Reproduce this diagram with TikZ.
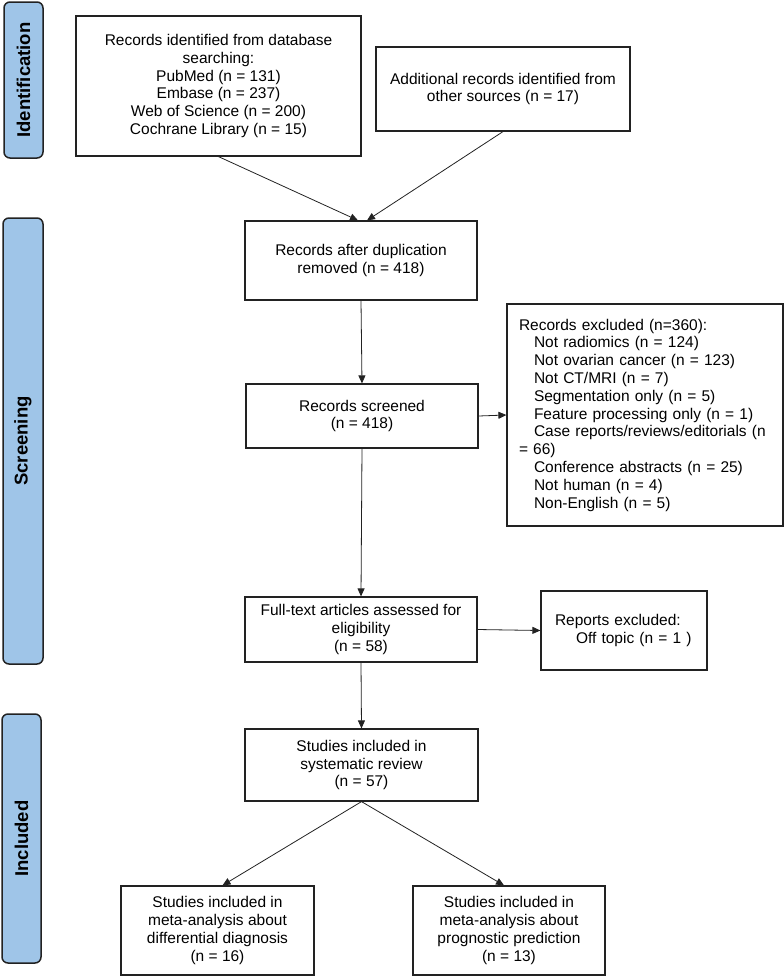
\documentclass[tikz,border=0pt]{standalone}
\usepackage{fontspec}
\setmainfont{Liberation Sans}
\usetikzlibrary{arrows.meta,calc}
\definecolor{phasefill}{HTML}{9FC5E8}
\definecolor{edge}{HTML}{222222}
\begin{document}
\begin{tikzpicture}[x=1pt,y=-1pt,
  box/.style={draw=edge, line width=1.2pt, align=center, inner sep=0pt,
    font=\fontsize{15.5}{17.8}\selectfont},
  phase/.style={draw=edge, line width=1.5pt, fill=phasefill, rounded corners=6pt, inner sep=0pt},
  plabel/.style={rotate=90, inner sep=0pt, font=\fontsize{18.5}{20}\selectfont\bfseries},
  arr/.style={-{Triangle[length=8pt,width=7pt]}, line width=0.8pt, draw=edge}]
\useasboundingbox (0,0) rectangle (784,978);
% phase bars
\node[phase, minimum width=39pt, minimum height=156pt] (p1) at (23.5,80) {};
\node[plabel] (p1t) at (p1.center) {Identification};
\node[phase, minimum width=40pt, minimum height=446pt] (p2) at (23,441) {};
\node[plabel] (p2t) at (p2.center) {Screening};
\node[phase, minimum width=39pt, minimum height=249pt] (p3) at (21.5,838.5) {};
\node[plabel] (p3t) at (p3.center) {Included};
% boxes
\node[box, minimum width=285pt, minimum height=140pt] (b1) at (218.5,86)
  {Records identified from database\\searching:\\PubMed (n = 131)\\Embase (n = 237)\\Web of Science (n = 200)\\Cochrane Library (n = 15)};
\node[box, minimum width=254pt, minimum height=84pt] (b2) at (503,89)
  {Additional records identified from\\other sources (n = 17)};
\node[box, minimum width=232pt, minimum height=79pt] (b3) at (361,260.5)
  {Records after duplication\\removed (n = 418)};
\node[box, minimum width=232pt, minimum height=64pt] (b4) at (362,416)
  {Records screened\\(n = 418)};
\node[box, minimum width=276pt, minimum height=222pt, text width=252pt, align=left] (ex) at (645,415)
  {Records excluded (n=360):\\
   \hspace*{15pt}Not radiomics (n = 124)\\
   \hspace*{15pt}Not ovarian cancer (n = 123)\\
   \hspace*{15pt}Not CT/MRI (n = 7)\\
   \hspace*{15pt}Segmentation only (n = 5)\\
   \hspace*{15pt}Feature processing only (n = 1)\\
   \hspace*{15pt}Case reports/reviews/editorials (n\\
   = 66)\\
   \hspace*{15pt}Conference abstracts (n = 25)\\
   \hspace*{15pt}Not human (n = 4)\\
   \hspace*{15pt}Non-English (n = 5)};
\node[box, minimum width=232pt, minimum height=65pt] (b5) at (361,629.5)
  {Full-text articles assessed for\\eligibility\\(n = 58)};
\node[box, minimum width=166pt, minimum height=79pt, text width=138pt, align=left] (rep) at (624,630.5)
  {Reports excluded:\\\hspace*{21pt}Off topic (n = 1 )};
\node[box, minimum width=233pt, minimum height=72pt] (b6) at (361.5,765)
  {Studies included in\\systematic review\\(n = 57)};
\node[box, minimum width=193pt, minimum height=89pt] (b7) at (217.5,930.5)
  {Studies included in\\meta-analysis about\\differential diagnosis\\(n = 16)};
\node[box, minimum width=192pt, minimum height=89pt] (b8) at (509,930.5)
  {Studies included in\\meta-analysis about\\prognostic prediction\\(n = 13)};
% connectors
\draw[arr] (b1.south) -- ($(b3.north)+(-3,0)$);
\draw[arr] (b2.south) -- ($(b3.north)+(6,0)$);
\draw[arr] (b3.south) -- (b4.north);
\draw[arr] (b4.east) -- (ex.west);
\draw[arr] (b4.south) -- (b5.north);
\draw[arr] (b5.east) -- (rep.west);
\draw[arr] (b5.south) -- (b6.north);
\draw[arr] (b6.south) -- ($(b7.north)+(5,0)$);
\draw[arr] (b6.south) -- ($(b8.north)+(-5,0)$);
\end{tikzpicture}
\end{document}
